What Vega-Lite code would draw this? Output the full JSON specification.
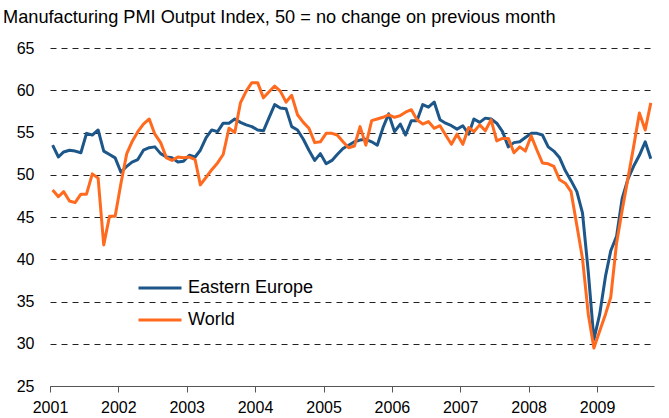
{
  "$schema": "https://vega.github.io/schema/vega-lite/v6.json",
  "width": 604,
  "height": 338,
  "autosize": {"type": "none"},
  "padding": {"left": 50, "top": 48, "right": 15, "bottom": 32},
  "background": "white",
  "title": {
    "text": "Manufacturing PMI Output Index, 50 = no change on previous month",
    "anchor": "start", "frame": "group", "dx": -47, "offset": 13,
    "fontSize": 18.2, "fontWeight": "normal", "font": "Liberation Sans", "color": "#000"
  },
  "data": {"values": [
    {"date":"2001-01-15","Eastern Europe":53.5,"World":48.2},
    {"date":"2001-02-15","Eastern Europe":52.1,"World":47.4},
    {"date":"2001-03-15","Eastern Europe":52.7,"World":48.0},
    {"date":"2001-04-15","Eastern Europe":52.9,"World":46.9},
    {"date":"2001-05-15","Eastern Europe":52.8,"World":46.7},
    {"date":"2001-06-15","Eastern Europe":52.6,"World":47.7},
    {"date":"2001-07-15","Eastern Europe":54.9,"World":47.7},
    {"date":"2001-08-15","Eastern Europe":54.7,"World":50.1},
    {"date":"2001-09-15","Eastern Europe":55.3,"World":49.6},
    {"date":"2001-10-15","Eastern Europe":52.8,"World":41.7},
    {"date":"2001-11-15","Eastern Europe":52.4,"World":45.1},
    {"date":"2001-12-15","Eastern Europe":52.0,"World":45.1},
    {"date":"2002-01-15","Eastern Europe":50.3,"World":49.0},
    {"date":"2002-02-15","Eastern Europe":51.0,"World":52.5},
    {"date":"2002-03-15","Eastern Europe":51.5,"World":53.9},
    {"date":"2002-04-15","Eastern Europe":51.8,"World":55.1},
    {"date":"2002-05-15","Eastern Europe":52.9,"World":56.0},
    {"date":"2002-06-15","Eastern Europe":53.2,"World":56.6},
    {"date":"2002-07-15","Eastern Europe":53.3,"World":54.8},
    {"date":"2002-08-15","Eastern Europe":52.5,"World":53.8},
    {"date":"2002-09-15","Eastern Europe":52.1,"World":52.0},
    {"date":"2002-10-15","Eastern Europe":52.0,"World":51.7},
    {"date":"2002-11-15","Eastern Europe":51.5,"World":52.1},
    {"date":"2002-12-15","Eastern Europe":51.6,"World":52.0},
    {"date":"2003-01-15","Eastern Europe":52.3,"World":52.1},
    {"date":"2003-02-15","Eastern Europe":52.1,"World":51.8},
    {"date":"2003-03-15","Eastern Europe":52.9,"World":48.8},
    {"date":"2003-04-15","Eastern Europe":54.4,"World":49.7},
    {"date":"2003-05-15","Eastern Europe":55.3,"World":50.6},
    {"date":"2003-06-15","Eastern Europe":55.1,"World":51.4},
    {"date":"2003-07-15","Eastern Europe":56.1,"World":52.4},
    {"date":"2003-08-15","Eastern Europe":56.1,"World":55.5},
    {"date":"2003-09-15","Eastern Europe":56.6,"World":55.0},
    {"date":"2003-10-15","Eastern Europe":56.2,"World":58.5},
    {"date":"2003-11-15","Eastern Europe":55.9,"World":59.9},
    {"date":"2003-12-15","Eastern Europe":55.7,"World":60.9},
    {"date":"2004-01-15","Eastern Europe":55.3,"World":60.9},
    {"date":"2004-02-15","Eastern Europe":55.2,"World":59.1},
    {"date":"2004-03-15","Eastern Europe":56.7,"World":59.8},
    {"date":"2004-04-15","Eastern Europe":58.3,"World":60.5},
    {"date":"2004-05-15","Eastern Europe":57.9,"World":59.9},
    {"date":"2004-06-15","Eastern Europe":57.8,"World":58.6},
    {"date":"2004-07-15","Eastern Europe":55.7,"World":59.4},
    {"date":"2004-08-15","Eastern Europe":55.3,"World":57.1},
    {"date":"2004-09-15","Eastern Europe":54.2,"World":56.2},
    {"date":"2004-10-15","Eastern Europe":52.9,"World":55.5},
    {"date":"2004-11-15","Eastern Europe":51.7,"World":53.8},
    {"date":"2004-12-15","Eastern Europe":52.5,"World":53.9},
    {"date":"2005-01-15","Eastern Europe":51.3,"World":54.9},
    {"date":"2005-02-15","Eastern Europe":51.7,"World":54.9},
    {"date":"2005-03-15","Eastern Europe":52.4,"World":54.7},
    {"date":"2005-04-15","Eastern Europe":53.1,"World":53.9},
    {"date":"2005-05-15","Eastern Europe":53.5,"World":53.2},
    {"date":"2005-06-15","Eastern Europe":53.9,"World":53.4},
    {"date":"2005-07-15","Eastern Europe":54.1,"World":55.7},
    {"date":"2005-08-15","Eastern Europe":54.2,"World":53.5},
    {"date":"2005-09-15","Eastern Europe":53.9,"World":56.4},
    {"date":"2005-10-15","Eastern Europe":53.5,"World":56.6},
    {"date":"2005-11-15","Eastern Europe":55.6,"World":56.8},
    {"date":"2005-12-15","Eastern Europe":57.2,"World":57.1},
    {"date":"2006-01-15","Eastern Europe":55.1,"World":56.8},
    {"date":"2006-02-15","Eastern Europe":56.0,"World":57.0},
    {"date":"2006-03-15","Eastern Europe":54.7,"World":57.4},
    {"date":"2006-04-15","Eastern Europe":56.4,"World":57.7},
    {"date":"2006-05-15","Eastern Europe":56.4,"World":56.5},
    {"date":"2006-06-15","Eastern Europe":58.3,"World":56.0},
    {"date":"2006-07-15","Eastern Europe":58.0,"World":56.3},
    {"date":"2006-08-15","Eastern Europe":58.6,"World":55.5},
    {"date":"2006-09-15","Eastern Europe":56.5,"World":55.8},
    {"date":"2006-10-15","Eastern Europe":56.1,"World":54.7},
    {"date":"2006-11-15","Eastern Europe":55.8,"World":53.6},
    {"date":"2006-12-15","Eastern Europe":55.4,"World":54.8},
    {"date":"2007-01-15","Eastern Europe":55.8,"World":53.6},
    {"date":"2007-02-15","Eastern Europe":54.8,"World":55.6},
    {"date":"2007-03-15","Eastern Europe":56.6,"World":55.1},
    {"date":"2007-04-15","Eastern Europe":56.2,"World":55.9},
    {"date":"2007-05-15","Eastern Europe":56.7,"World":55.2},
    {"date":"2007-06-15","Eastern Europe":56.6,"World":56.5},
    {"date":"2007-07-15","Eastern Europe":56.1,"World":54.0},
    {"date":"2007-08-15","Eastern Europe":55.1,"World":54.3},
    {"date":"2007-09-15","Eastern Europe":53.3,"World":54.3},
    {"date":"2007-10-15","Eastern Europe":53.8,"World":52.6},
    {"date":"2007-11-15","Eastern Europe":53.9,"World":53.3},
    {"date":"2007-12-15","Eastern Europe":54.4,"World":52.8},
    {"date":"2008-01-15","Eastern Europe":54.9,"World":54.6},
    {"date":"2008-02-15","Eastern Europe":54.9,"World":52.9},
    {"date":"2008-03-15","Eastern Europe":54.7,"World":51.4},
    {"date":"2008-04-15","Eastern Europe":53.3,"World":51.3},
    {"date":"2008-05-15","Eastern Europe":52.8,"World":51.0},
    {"date":"2008-06-15","Eastern Europe":52.0,"World":49.4},
    {"date":"2008-07-15","Eastern Europe":50.5,"World":49.0},
    {"date":"2008-08-15","Eastern Europe":49.3,"World":48.0},
    {"date":"2008-09-15","Eastern Europe":48.0,"World":44.0},
    {"date":"2008-10-15","Eastern Europe":45.5,"World":40.1},
    {"date":"2008-11-15","Eastern Europe":38.5,"World":33.5},
    {"date":"2008-12-15","Eastern Europe":30.5,"World":29.5},
    {"date":"2009-01-15","Eastern Europe":33.5,"World":31.5},
    {"date":"2009-02-15","Eastern Europe":38.0,"World":33.5},
    {"date":"2009-03-15","Eastern Europe":41.0,"World":35.5},
    {"date":"2009-04-15","Eastern Europe":42.7,"World":41.9},
    {"date":"2009-05-15","Eastern Europe":47.2,"World":45.8},
    {"date":"2009-06-15","Eastern Europe":49.5,"World":49.6},
    {"date":"2009-07-15","Eastern Europe":51.0,"World":53.3},
    {"date":"2009-08-15","Eastern Europe":52.3,"World":57.3},
    {"date":"2009-09-15","Eastern Europe":53.9,"World":55.3},
    {"date":"2009-10-15","Eastern Europe":51.9,"World":58.5}
  ]},
  "transform": [{"fold": ["Eastern Europe", "World"], "as": ["series", "value"]}],
  "mark": {"type": "line", "strokeWidth": 3, "strokeJoin": "round"},
  "encoding": {
    "x": {
      "field": "date", "type": "temporal",
      "scale": {"type": "utc", "domain": [{"year": 2001, "month": 1, "date": 1, "utc": true}, {"year": 2009, "month": 11, "date": 1, "utc": true}]},
      "axis": {
        "title": null,
        "values": [
          {"year": 2001, "month": 1, "date": 1, "utc": true},
          {"year": 2002, "month": 1, "date": 1, "utc": true},
          {"year": 2003, "month": 1, "date": 1, "utc": true},
          {"year": 2004, "month": 1, "date": 1, "utc": true},
          {"year": 2005, "month": 1, "date": 1, "utc": true},
          {"year": 2006, "month": 1, "date": 1, "utc": true},
          {"year": 2007, "month": 1, "date": 1, "utc": true},
          {"year": 2008, "month": 1, "date": 1, "utc": true},
          {"year": 2009, "month": 1, "date": 1, "utc": true}
        ],
        "format": "%Y", "formatType": "utc",
        "grid": false, "domainColor": "#555", "tickColor": "#555", "tickSize": 6,
        "labelFontSize": 16, "labelColor": "#000", "labelPadding": 7, "labelFlush": false,
        "labelFont": "Liberation Sans"
      }
    },
    "y": {
      "field": "value", "type": "quantitative",
      "scale": {"domain": [25, 65], "nice": false, "zero": false},
      "axis": {
        "title": null, "values": [25, 30, 35, 40, 45, 50, 55, 60, 65],
        "grid": true, "gridDash": [6, 5], "gridColor": "#222", "gridWidth": 1,
        "domain": false, "ticks": false,
        "labelFontSize": 16, "labelColor": "#000", "labelPadding": 16,
        "labelFont": "Liberation Sans"
      }
    },
    "color": {
      "field": "series", "type": "nominal",
      "scale": {"domain": ["Eastern Europe", "World"], "range": ["#1D5789", "#FF6A1F"]},
      "legend": {
        "title": null, "orient": "none", "legendX": 87, "legendY": 217,
        "symbolType": "stroke", "symbolSize": 1849, "symbolStrokeWidth": 3,
        "labelFontSize": 18, "labelColor": "#000", "labelOffset": 5,
        "labelFont": "Liberation Sans", "rowPadding": -10, "padding": 0
      }
    }
  },
  "config": {"view": {"stroke": null}, "font": "Liberation Sans"}
}
